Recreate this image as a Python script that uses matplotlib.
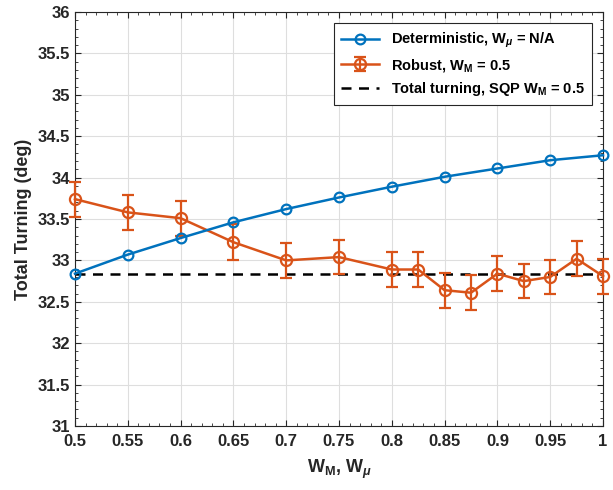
import numpy as np
import matplotlib
matplotlib.use("Agg")
import matplotlib.pyplot as plt
from matplotlib.ticker import MultipleLocator, AutoMinorLocator

plt.rcParams['font.family'] = ['Liberation Sans', 'DejaVu Sans']
plt.rcParams['font.weight'] = 'bold'
plt.rcParams['axes.labelweight'] = 'bold'
plt.rcParams['mathtext.fontset'] = 'custom'
plt.rcParams['mathtext.it'] = 'Liberation Sans:bold:italic'
plt.rcParams['mathtext.rm'] = 'Liberation Sans:bold'
plt.rcParams['mathtext.bf'] = 'Liberation Sans:bold'

# deterministic sweep over W_mu
w_det = [0.5, 0.55, 0.6, 0.65, 0.7, 0.75, 0.8, 0.85, 0.9, 0.95, 1.0]
turn_det = [32.84, 33.07, 33.27, 33.46, 33.62, 33.76, 33.89, 34.01, 34.11, 34.21, 34.27]

# robust sweep over W_M, mean and spread
w_rob = [0.5, 0.55, 0.6, 0.65, 0.7, 0.75, 0.8, 0.825, 0.85, 0.875,
         0.9, 0.925, 0.95, 0.975, 1.0]
turn_rob = [33.74, 33.58, 33.51, 33.22, 33.00, 33.04, 32.89, 32.89, 32.64,
            32.61, 32.84, 32.75, 32.80, 33.02, 32.81]
err_rob = [0.21, 0.21, 0.21, 0.22, 0.21, 0.21, 0.21, 0.21, 0.21,
           0.21, 0.21, 0.21, 0.21, 0.21, 0.21]

sqp_turn = 32.84

blue = '#0072BD'
orange = '#D95319'

fig = plt.figure(figsize=(6.13, 4.9), dpi=100)
ax = fig.add_axes([0.1223, 0.1306, 0.8614, 0.8449])

h_det, = ax.plot(w_det, turn_det, '-o', color=blue, lw=1.8, ms=7, mfc='none',
                 mew=1.6, clip_on=False, zorder=4,
                 label=r'Deterministic, W$_{\mu}$ = N/A')
h_rob = ax.errorbar(w_rob, turn_rob, yerr=err_rob, fmt='-o', color=orange,
                    lw=1.8, ms=8, mfc='none', mew=1.6, capsize=4.5,
                    capthick=1.6, elinewidth=1.6, zorder=3,
                    label=r'Robust, W$_{\mathregular{M}}$ = 0.5')
for art in h_rob.lines[:1] + tuple(h_rob.lines[1]) + tuple(h_rob.lines[2]):
    art.set_clip_on(False)
h_sqp = ax.axhline(sqp_turn, color='black', ls=(0, (4, 3)), lw=1.8,
                   label=r'Total turning, SQP W$_{\mathregular{M}}$ = 0.5')

ax.set_xlim(0.5, 1.0)
ax.set_ylim(31, 36)
ax.xaxis.set_major_locator(MultipleLocator(0.05))
ax.yaxis.set_major_locator(MultipleLocator(0.5))
ax.xaxis.set_minor_locator(AutoMinorLocator(5))
ax.yaxis.set_minor_locator(AutoMinorLocator(5))
ax.set_xticklabels([f'{v:g}' for v in ax.get_xticks()])
ax.set_yticklabels([f'{v:g}' for v in ax.get_yticks()])
ax.tick_params(which='both', direction='in', top=True, right=True,
               labelsize=12, color='#262626', labelcolor='#262626')
ax.tick_params(axis='x', which='major', pad=6)
ax.tick_params(which='major', length=4)
ax.tick_params(which='minor', length=2)
ax.grid(True, which='major', color='#dedede', lw=0.8)
ax.set_axisbelow(True)
for s in ax.spines.values():
    s.set_color('#262626')
    s.set_linewidth(0.8)

ax.set_xlabel(r'W$_{\mathregular{M}}$, W$_{\mu}$', fontsize=13, color='#262626',
              labelpad=6)
ax.set_ylabel('Total Turning (deg)', fontsize=13, color='#262626')

leg = ax.legend([h_det, h_rob, h_sqp], [h.get_label() for h in (h_det, h_rob, h_sqp)],
                loc='upper right', fontsize=10.5, fancybox=False, framealpha=1,
                edgecolor='#262626', handlelength=2.6, borderpad=0.5,
                labelspacing=0.45, bbox_to_anchor=(0.993, 0.99))
leg.get_frame().set_linewidth(0.8)

fig.savefig('out.png', dpi=100)
